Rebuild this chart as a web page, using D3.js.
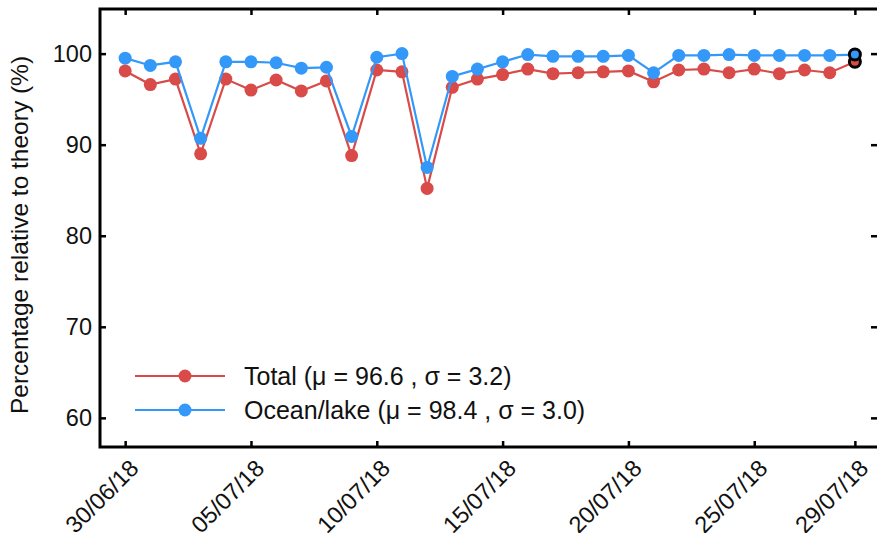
<!DOCTYPE html>
<html>
<head>
<meta charset="utf-8">
<script src="https://cdn.jsdelivr.net/npm/d3@7"></script>
<style>
  html, body { margin: 0; padding: 0; background: #fff; }
  svg { display: block; }
  text { font-family: "Liberation Sans", Arial, sans-serif; fill: #111; }
</style>
</head>
<body>
<svg id="chart" width="877" height="533"></svg>
<script>
// Dates (dd/mm/yy) of each daily point
const dates = [
    "30/06/18", "01/07/18", "02/07/18", "03/07/18", "04/07/18", "05/07/18",
    "06/07/18", "07/07/18", "08/07/18", "09/07/18", "10/07/18", "11/07/18",
    "12/07/18", "13/07/18", "14/07/18", "15/07/18", "16/07/18", "17/07/18",
    "18/07/18", "19/07/18", "20/07/18", "21/07/18", "22/07/18", "23/07/18",
    "24/07/18", "25/07/18", "26/07/18", "27/07/18", "28/07/18", "29/07/18",
];

// Percentage relative to theory
const totalValues = [
    98.1, 96.6, 97.2, 89.0, 97.2, 96.0, 97.1, 95.9, 97.0, 88.8,
    98.2, 98.0, 85.2, 96.3, 97.2, 97.7, 98.3, 97.8, 97.9, 98.0,
    98.1, 96.9, 98.2, 98.3, 97.9, 98.3, 97.8, 98.2, 97.9, 99.1,
];
const oceanValues = [
    99.5, 98.7, 99.1, 90.7, 99.1, 99.1, 99.0, 98.4, 98.5, 90.9,
    99.6, 100.0, 87.5, 97.5, 98.3, 99.1, 99.9, 99.7, 99.7, 99.7,
    99.8, 97.9, 99.8, 99.8, 99.9, 99.8, 99.8, 99.8, 99.8, 99.9,
];

const xTickLabels = ["30/06/18", "05/07/18", "10/07/18", "15/07/18", "20/07/18", "25/07/18", "29/07/18"];
const yTicks = [60, 70, 80, 90, 100];

const seriesNames = ["Total (\u03bc = 96.6 , \u03c3 = 3.2)", "Ocean/lake (\u03bc = 98.4 , \u03c3 = 3.0)"];

const RED = "#d84b48";
const BLUE = "#3498f8";

const parseDate = d3.utcParse("%d/%m/%y");

const svg = d3.select("#chart");

// right spine sits just past the window edge, only its ticks show
const plotLeft = 100, plotRight = 879, plotTop = 9, plotBottom = 447;

const xScale = d3.scaleUtc()
    .domain([Date.UTC(2018, 5, 29), Date.UTC(2018, 6, 29, 23)])
    .range([plotLeft, plotRight]);

const yScale = d3.scaleLinear()
    .domain([56.8, 104.9])
    .range([plotBottom, plotTop]);

const tickDates = xTickLabels.map(parseDate);

// Bottom axis (ticks inward)
const xAxisG = svg.append("g")
    .attr("transform", `translate(0,${plotBottom})`)
    .call(d3.axisBottom(xScale).tickValues(tickDates).tickSize(-6).tickFormat(""));
// Top axis
const xTopG = svg.append("g")
    .attr("transform", `translate(0,${plotTop})`)
    .call(d3.axisTop(xScale).tickValues(tickDates).tickSize(-6).tickFormat(""));
// Left axis
const yAxisG = svg.append("g")
    .attr("transform", `translate(${plotLeft},0)`)
    .call(d3.axisLeft(yScale).tickValues(yTicks).tickSize(-6).tickPadding(8));
// Right axis
const yRightG = svg.append("g")
    .attr("transform", `translate(${plotRight},0)`)
    .call(d3.axisRight(yScale).tickValues(yTicks).tickSize(-8).tickFormat(""));

[xAxisG, xTopG, yAxisG, yRightG].forEach((g) => {
    g.select(".domain").remove();
    g.selectAll(".tick line").attr("stroke", "#000").attr("stroke-width", 2.5);
});
yAxisG.selectAll("text")
    .style("font-family", "'Liberation Sans', Arial, sans-serif")
    .style("font-size", "23.5px")
    .attr("fill", "#111");

// Frame
svg.append("rect")
    .attr("x", plotLeft).attr("y", plotTop)
    .attr("width", plotRight - plotLeft).attr("height", plotBottom - plotTop)
    .attr("fill", "none")
    .attr("stroke", "#000")
    .attr("stroke-width", 3);

// Rotated date labels
svg.selectAll(".xlab")
    .data(xTickLabels)
    .join("text")
    .attr("class", "xlab")
    .attr("transform", (d) => `translate(${xScale(parseDate(d)) + 9},${plotBottom + 17}) rotate(-45)`)
    .attr("text-anchor", "end")
    .attr("dy", "0.35em")
    .style("font-size", "23.5px")
    .text((d) => d);

// Y label
svg.append("text")
    .attr("transform", `translate(28,${(plotTop + plotBottom) / 2 + 7}) rotate(-90)`)
    .attr("text-anchor", "middle")
    .style("font-size", "24.5px")
    .text("Percentage relative to theory (%)");

const series = [
    { name: seriesNames[0], color: RED, values: totalValues },
    { name: seriesNames[1], color: BLUE, values: oceanValues },
];

const line = d3.line()
    .x((d) => xScale(parseDate(d.date)))
    .y((d) => yScale(d.value));

series.forEach((s) => {
    const pts = dates.map((d, i) => ({ date: d, value: s.values[i] }));
    svg.append("path")
        .datum(pts)
        .attr("fill", "none")
        .attr("stroke", s.color)
        .attr("stroke-width", 2.2)
        .attr("d", line);

    svg.append("g")
        .selectAll("circle")
        .data(pts.slice(0, -1))
        .join("circle")
        .attr("cx", (d) => xScale(parseDate(d.date)))
        .attr("cy", (d) => yScale(d.value))
        .attr("r", 6.5)
        .attr("fill", s.color);
});

// Last day highlighted with black rings
series.forEach((s) => {
    const i = dates.length - 1;
    svg.append("circle")
        .attr("cx", xScale(parseDate(dates[i])))
        .attr("cy", yScale(s.values[i]))
        .attr("r", 5.5)
        .attr("fill", s.color)
        .attr("stroke", "#000")
        .attr("stroke-width", 3);
});

// Legend
const legend = svg.append("g").attr("transform", "translate(135,376)");
series.forEach((s, i) => {
    const row = legend.append("g").attr("transform", `translate(0,${i * 34})`);
    row.append("line")
        .attr("x1", 0).attr("x2", 90)
        .attr("y1", 0).attr("y2", 0)
        .attr("stroke", s.color).attr("stroke-width", 2.2);
    row.append("circle")
        .attr("cx", 50).attr("cy", 0).attr("r", 6.5)
        .attr("fill", s.color);
    row.append("text")
        .attr("x", 109).attr("y", 0)
        .attr("dy", "0.36em")
        .style("font-size", "25px")
        .text(s.name);
});
</script>
</body>
</html>
